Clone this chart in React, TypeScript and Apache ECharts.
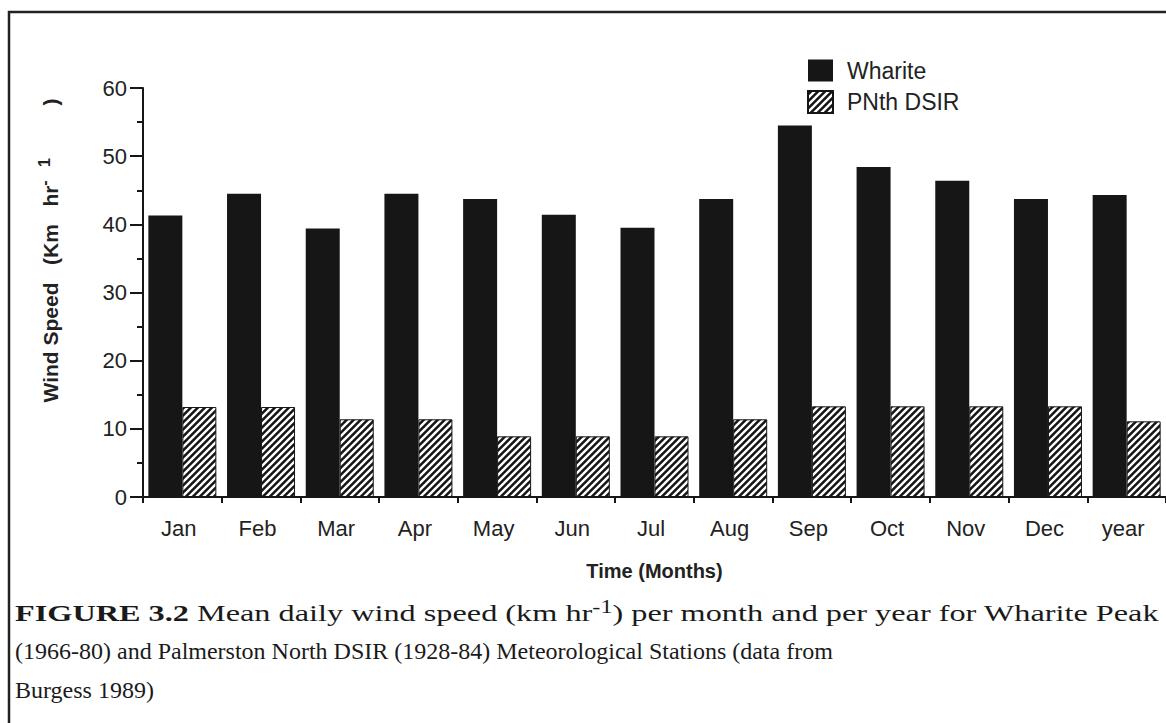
import React, { useEffect, useRef } from "react";
import * as echarts from "echarts";

const categories = ["Jan", "Feb", "Mar", "Apr", "May", "Jun", "Jul", "Aug", "Sep", "Oct", "Nov", "Dec", "year"];
const wharite = [41.3, 44.5, 39.4, 44.5, 43.7, 41.4, 39.5, 43.7, 54.5, 48.4, 46.4, 43.7, 44.3];
const pnthDsir = [13.2, 13.2, 11.4, 11.4, 8.9, 8.9, 8.9, 11.4, 13.3, 13.3, 13.3, 13.3, 11.1];
const seriesNames = ["Wharite", "PNth DSIR"];
const yMin = 0;
const yMax = 60;
const yInterval = 10;
const xAxisTitle = "Time (Months)";
const yAxisTitle = "Wind Speed   (Km   hr{sup|-   1}         )";
const captionLine1 = "{b|FIGURE 3.2} Mean daily wind speed (km hr{sup|-1}) per month and per year for Wharite Peak";
const captionLine2 = "(1966-80) and Palmerston North DSIR (1928-84) Meteorological Stations (data from";
const captionLine3 = "Burgess 1989)";

const SANS = "'Liberation Sans', Arial, Helvetica, sans-serif";
const SERIF = "'Liberation Serif', 'Times New Roman', serif";
const INK = "#161616";

function makeHatch(): HTMLCanvasElement {
  const s = 7;
  const c = document.createElement("canvas");
  c.width = s;
  c.height = s;
  const ctx = c.getContext("2d")!;
  ctx.fillStyle = INK;
  ctx.fillRect(0, 0, s, s);
  ctx.strokeStyle = "#ffffff";
  ctx.lineWidth = 2.4;
  ctx.beginPath();
  ctx.moveTo(0, s);
  ctx.lineTo(s, 0);
  ctx.moveTo(-s / 2, s / 2);
  ctx.lineTo(s / 2, -s / 2);
  ctx.moveTo(s / 2, s * 1.5);
  ctx.lineTo(s * 1.5, s / 2);
  ctx.stroke();
  return c;
}

export default function App() {
  const ref = useRef<HTMLDivElement>(null);

  useEffect(() => {
    if (!ref.current) return;
    const chart = echarts.init(ref.current, undefined, { renderer: "svg" });
    const hatch = makeHatch();

    const captionStyle = {
      fontFamily: SERIF,
      fontSize: 24,
      fill: "#1a1a1a",
      align: "left",
      verticalAlign: "middle",
    };

    chart.setOption({
      animation: false,
      backgroundColor: "#ffffff",
      grid: { left: 143, right: -9, top: 88, bottom: 226, containLabel: false },
      legend: {
        data: seriesNames,
        orient: "vertical",
        left: 802,
        top: 54,
        itemWidth: 25,
        itemHeight: 22,
        itemGap: 8,
        icon: "rect",
        textStyle: { fontFamily: SANS, fontSize: 23, color: "#222", padding: [0, 0, 0, 9] },
      },
      xAxis: {
        type: "category",
        data: categories,
        name: xAxisTitle,
        nameLocation: "middle",
        nameGap: 64,
        nameTextStyle: { fontFamily: SANS, fontSize: 20, fontWeight: "bold", color: "#222" },
        axisLine: { lineStyle: { color: INK, width: 2 } },
        axisTick: { show: true, length: 6, lineStyle: { color: INK, width: 2 } },
        axisLabel: {
          fontFamily: SANS,
          fontSize: 22,
          color: "#222",
          margin: 20,
          interval: 0,
          padding: [0, 7, 0, 0],
        },
        splitLine: { show: false },
      },
      yAxis: {
        type: "value",
        min: yMin,
        max: yMax,
        interval: yInterval,
        name: yAxisTitle,
        nameLocation: "middle",
        nameRotate: 90,
        nameGap: 79,
        nameTextStyle: {
          fontFamily: SANS,
          fontSize: 21,
          fontWeight: "bold",
          color: "#222",
          padding: [0, 0, 0, 84],
          rich: {
            sup: { fontFamily: SANS, fontSize: 16, fontWeight: "bold", color: "#222", padding: [0, 0, 12, 0] },
          },
        },
        axisLine: { show: true, lineStyle: { color: INK, width: 2 } },
        axisTick: { show: true, length: 13, lineStyle: { color: INK, width: 2 } },
        minorTick: { show: true, splitNumber: 2, length: 6, lineStyle: { color: INK, width: 2 } },
        axisLabel: { fontFamily: SANS, fontSize: 22, color: "#222", margin: 16 },
        splitLine: { show: false },
        minorSplitLine: { show: false },
      },
      series: [
        {
          name: seriesNames[0],
          type: "bar",
          data: wharite,
          barWidth: 34,
          barGap: "0%",
          itemStyle: { color: INK },
        },
        {
          name: seriesNames[1],
          type: "bar",
          data: pnthDsir,
          barWidth: 34,
          barGap: "0%",
          itemStyle: { color: { image: hatch, repeat: "repeat" }, borderColor: INK, borderWidth: 1 },
        },
      ],
      graphic: [
        {
          type: "polyline",
          shape: { points: [[9, 723], [9, 12], [1166, 12]] },
          style: { stroke: "#222", lineWidth: 2.5, fill: "none" },
          silent: true,
        },
        {
          type: "text",
          x: 15,
          y: 613,
          scaleX: 1.345,
          style: {
            ...captionStyle,
            text: captionLine1,
            rich: {
              b: { fontFamily: SERIF, fontSize: 24, fontWeight: "bold", fill: "#1a1a1a" },
              sup: { fontFamily: SERIF, fontSize: 18, fill: "#1a1a1a", padding: [0, 0, 12, 0] },
            },
          },
        },
        { type: "text", x: 15, y: 651, style: { ...captionStyle, text: captionLine2 } },
        { type: "text", x: 15, y: 690, style: { ...captionStyle, text: captionLine3 } },
      ],
    });

    return () => chart.dispose();
  }, []);

  return (
    <div
      ref={ref}
      style={{ position: "fixed", left: 0, top: 0, width: 1166, height: 723, background: "#fff" }}
    />
  );
}
